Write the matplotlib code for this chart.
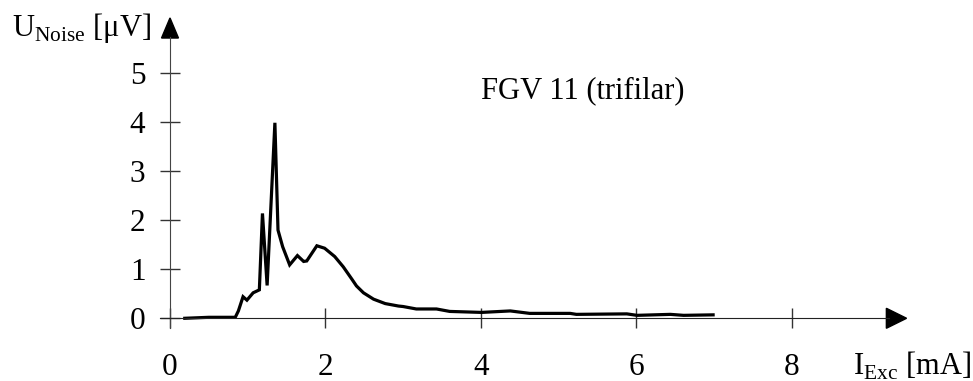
import matplotlib
matplotlib.use("Agg")
import matplotlib.pyplot as plt

# measured noise voltage vs excitation current
i_exc = [0.19, 0.5, 0.84, 0.88, 0.94, 0.99, 1.07, 1.15, 1.19, 1.25, 1.35, 1.39,
         1.45, 1.54, 1.64, 1.72, 1.76, 1.89, 1.99, 2.12, 2.23, 2.34, 2.40, 2.49,
         2.57, 2.62, 2.77, 2.94, 3.0, 3.17, 3.43, 3.60, 4.01, 4.38, 4.63, 5.15,
         5.23, 5.88, 6.01, 6.44, 6.61, 6.99]
u_noise = [0.0, 0.02, 0.02, 0.15, 0.44, 0.37, 0.52, 0.58, 2.14, 0.67, 3.99, 1.80,
           1.46, 1.09, 1.28, 1.16, 1.17, 1.48, 1.43, 1.26, 1.05, 0.80, 0.66, 0.52,
           0.44, 0.39, 0.30, 0.25, 0.24, 0.19, 0.19, 0.14, 0.12, 0.15, 0.10, 0.10,
           0.08, 0.09, 0.06, 0.08, 0.06, 0.07]

xticks = [0, 2, 4, 6, 8]
yticks = [0, 1, 2, 3, 4, 5]

plt.rcParams['font.family'] = ['Liberation Serif', 'DejaVu Serif']
plt.rcParams['mathtext.fontset'] = 'custom'
plt.rcParams['mathtext.rm'] = 'Liberation Serif'

fig = plt.figure(figsize=(9.73, 3.81), dpi=100)
ax = fig.add_axes([0, 0, 1, 1])
ax.set_xlim(-2.188, 10.335)
ax.set_ylim(-1.28, 6.496)

ax.plot(i_exc, u_noise, color='black', lw=2.3, solid_joinstyle='miter')

# axes through the origin
for s in ['top', 'right']:
    ax.spines[s].set_visible(False)
ax.spines['left'].set_position(('data', 0))
ax.spines['bottom'].set_position(('data', 0))
ax.spines['left'].set_bounds(-0.2, 5.75)
ax.spines['bottom'].set_bounds(-0.13, 9.25)
ax.spines['left'].set_color('#444444')
ax.spines['bottom'].set_color('#222222')

ax.set_xticks(xticks)
ax.set_yticks(yticks)
ax.tick_params(direction='inout', length=14.4, width=1, labelsize=22.5, color='#333333')
ax.tick_params(axis='x', pad=18)
ax.tick_params(axis='y', pad=10.5)

# arrow heads
ax.fill([-0.109, 0.109, 0], [5.72, 5.72, 6.13], color='black', clip_on=False)
ax.fill([9.22, 9.22, 9.48], [-0.204, 0.204, 0], color='black', clip_on=False)

fig.text(0.0123, 0.9055, r'U$_{\rm Noise}$ [μV]', fontsize=22, va='baseline')
fig.text(0.8767, 0.0157, r'I$_{\rm Exc}$ [mA]', fontsize=22, va='baseline')
fig.text(0.4943, 0.742, 'FGV 11 (trifilar)', fontsize=22, va='baseline')

fig.savefig('out.png', dpi=100)
